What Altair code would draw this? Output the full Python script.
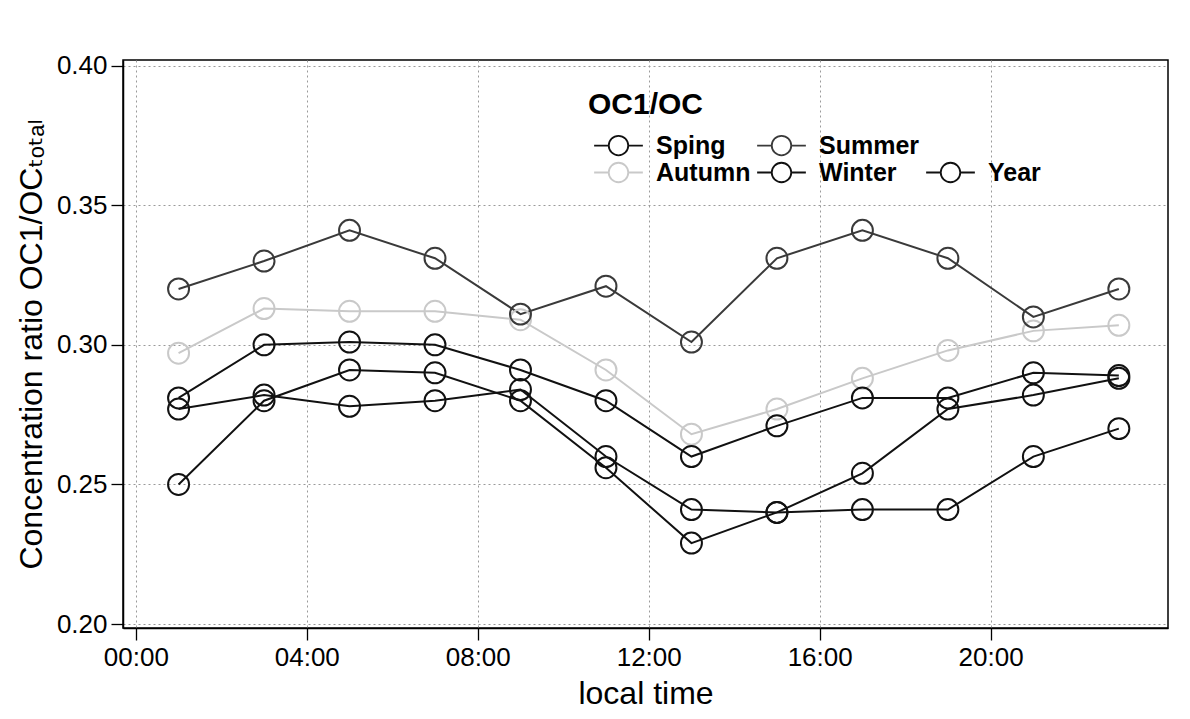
import altair as alt
import pandas as pd

hours = [1, 3, 5, 7, 9, 11, 13, 15, 17, 19, 21, 23]
series_names = ["Sping", "Summer", "Autumn", "Winter", "Year"]
sping = [0.250, 0.280, 0.291, 0.290, 0.280, 0.256, 0.229, 0.240, 0.254, 0.277, 0.282, 0.288]
summer = [0.320, 0.330, 0.341, 0.331, 0.311, 0.321, 0.301, 0.331, 0.341, 0.331, 0.310, 0.320]
autumn = [0.297, 0.313, 0.312, 0.312, 0.309, 0.291, 0.268, 0.277, 0.288, 0.298, 0.305, 0.307]
winter = [0.277, 0.282, 0.278, 0.280, 0.284, 0.260, 0.241, 0.240, 0.241, 0.241, 0.260, 0.270]
year = [0.281, 0.300, 0.301, 0.300, 0.291, 0.280, 0.260, 0.271, 0.281, 0.281, 0.290, 0.289]

x_ticks = [0, 4, 8, 12, 16, 20]
y_ticks = [0.20, 0.25, 0.30, 0.35, 0.40]

# legend fills column by column (2 rows): a blank slot puts Year on row 2
legend_domain = ["Sping", "Autumn", "Summer", "Winter", " ", "Year"]
legend_colors = ["#111111", "#c9c9c9", "#3a3a3a", "#111111", "transparent", "#111111"]

values = {"Autumn": autumn, "Sping": sping, "Summer": summer, "Winter": winter, "Year": year}
rows = []
for name in ["Autumn", "Sping", "Summer", "Winter", "Year"]:
    for h, v in zip(hours, values[name]):
        rows.append({"hour": h, "ratio": v, "season": name})
df = pd.DataFrame(rows)

# "-o-" legend glyph: circle of unit radius with line stubs reaching past it
sym_path = "M-2.5,0L-1,0M1,0L2.5,0M-1,0A1,1,0,1,0,1,0A1,1,0,1,0,-1,0"

chart = alt.Chart(df).mark_line(
    strokeWidth=2,
    point=alt.OverlayMarkDef(filled=False, size=440, strokeWidth=2),
).encode(
    x=alt.X("hour:Q",
            scale=alt.Scale(domain=[-0.3, 24.15], nice=False, zero=False),
            axis=alt.Axis(values=x_ticks, title="local time",
                          labelExpr="(datum.value < 10 ? '0' : '') + datum.value + ':00'")),
    y=alt.Y("ratio:Q",
            scale=alt.Scale(domain=[0.1986, 0.402], nice=False, zero=False),
            axis=alt.Axis(values=y_ticks, format=".2f",
                          title="Concentration ratio OC1/OCₜₒₜₐₗ")),
    color=alt.Color("season:N",
                    scale=alt.Scale(domain=legend_domain, range=legend_colors),
                    legend=alt.Legend(
                        title="OC1/OC", orient="none", legendX=465, legendY=30,
                        columns=3, symbolType=sym_path, symbolSize=380,
                        symbolStrokeWidth=1.8, symbolFillColor="transparent",
                        symbolOffset=18,
                        titleFontSize=30, titleFontWeight="bold", titleColor="black",
                        titleFont="Liberation Sans", labelFont="Liberation Sans",
                        labelFontSize=25, labelFontWeight="bold", labelColor="black",
                        rowPadding=0, columnPadding=-12, labelOffset=25, titlePadding=13,
                    )),
    detail="season:N",
).properties(
    width=1045, height=568,
    padding={"left": 7, "top": 44, "right": 5, "bottom": 5},
).configure_view(
    stroke="black", strokeWidth=1.5,
).configure_axis(
    labelFont="Liberation Sans", titleFont="Liberation Sans, DejaVu Sans",
    labelFontSize=26, titleFontSize=32, titleFontWeight="normal",
    labelColor="black", titleColor="black",
    tickColor="black", tickSize=12, tickWidth=1.3,
    domainColor="black", domainWidth=1.5,
    gridColor="#9a9a9a", gridDash=[2, 3], gridWidth=1,
    labelPadding=4, titlePadding=8,
)

chart.save("out.html", embed_options={"renderer": "svg", "actions": False})
